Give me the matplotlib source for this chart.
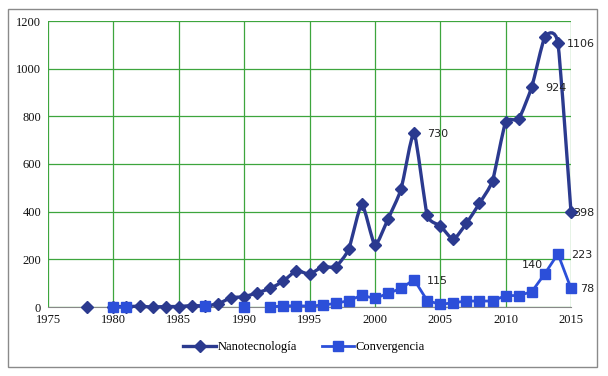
import numpy as np
import matplotlib
matplotlib.use("Agg")
import matplotlib.pyplot as plt
from matplotlib.path import Path
from matplotlib.patches import PathPatch, Rectangle

# data (nan = no value that year)
years = list(range(1978, 2016))
nano = [0, np.nan, 2, 2, 3, 0, 2, 2, 6, 5, 13, 39, 43, 60, 78, 109, 152, 138,
        169, 169, 242, 432, 260, 369, 494, 730, 386, 341, 284, 351, 435, 530,
        776, 789, 924, 1133, 1106, 398]
conv = [np.nan, np.nan, 0, 0, np.nan, np.nan, np.nan, np.nan, np.nan, 5, np.nan,
        np.nan, 0, np.nan, 0, 5, 5, 4, 8, 15, 27, 49, 36, 57, 78, 115, 27, 11,
        18, 25, 25, 25, 48, 48, 64, 140, 223, 78]

nano_labels = {2003: "730", 2012: "924", 2014: "1106", 2015: "398"}
conv_labels = {2003: "115", 2013: "140", 2014: "223", 2015: "78"}

NANO_COLOR = "#2B3A8F"
CONV_COLOR = "#2C4FD9"
GRID_COLOR = "#3DA53D"
TENSION = 0.09


def smooth_path(xs, ys):
    # smoothed line like the spreadsheet: cubic bezier through every point
    verts, codes = [], []
    n = len(xs)
    for i in range(n):
        if i == 0:
            verts.append((xs[0], ys[0]))
            codes.append(Path.MOVETO)
            continue
        p0 = (xs[max(i - 2, 0)], ys[max(i - 2, 0)])
        p1 = (xs[i - 1], ys[i - 1])
        p2 = (xs[i], ys[i])
        p3 = (xs[min(i + 1, n - 1)], ys[min(i + 1, n - 1)])
        c1 = (p1[0] + (p2[0] - p0[0]) * TENSION, p1[1] + (p2[1] - p0[1]) * TENSION)
        c2 = (p2[0] - (p3[0] - p1[0]) * TENSION, p2[1] - (p3[1] - p1[1]) * TENSION)
        verts += [c1, c2, p2]
        codes += [Path.CURVE4] * 3
    return Path(verts, codes)


fig = plt.figure(figsize=(6.08, 3.76), dpi=100)
ax = fig.add_axes([48 / 608, 1 - 307 / 376, 523 / 608, 286 / 376])

x = np.array(years, dtype=float)
yn = np.array(nano, dtype=float)
yc = np.array(conv, dtype=float)

# smoothed nano line, split at gaps
ok = ~np.isnan(yn)
start = None
for i in range(len(x) + 1):
    if i < len(x) and ok[i]:
        if start is None:
            start = i
    elif start is not None:
        if i - start > 1:
            ax.add_patch(PathPatch(smooth_path(x[start:i], yn[start:i]),
                                   fill=False, edgecolor=NANO_COLOR, lw=2.4,
                                   zorder=3, capstyle="round", clip_on=False))
        start = None

ax.plot(x, yn, linestyle="none", marker="D", markersize=6,
        color=NANO_COLOR, label="Nanotecnología", zorder=4, clip_on=False)
ax.plot(x, yc, marker="s", markersize=7, lw=2.0, color=CONV_COLOR,
        label="Convergencia", zorder=5, clip_on=False)

lab_kw = dict(textcoords="offset pixels", fontsize=8, color="#222222",
              family="DejaVu Sans", zorder=6, annotation_clip=False, va="center")

for yr, txt in nano_labels.items():
    v = yn[years.index(yr)]
    dx = 2 if yr == 2015 else (9 if yr == 2014 else 13)
    ax.annotate(txt, (yr, v), xytext=(dx, -1), ha="left", **lab_kw)

for yr, txt in conv_labels.items():
    v = yc[years.index(yr)]
    if yr == 2013:
        ax.annotate(txt, (yr, v), xytext=(-2, 9), ha="right", **lab_kw)
    else:
        dx = 9 if yr == 2015 else 13
        ax.annotate(txt, (yr, v), xytext=(dx, -1), ha="left", **lab_kw)

ax.set_xlim(1975, 2015)
ax.set_ylim(0, 1200)
ax.set_xticks(range(1975, 2016, 5))
ax.set_yticks(range(0, 1201, 200))
ax.grid(True, color=GRID_COLOR, lw=0.9)
ax.set_axisbelow(True)
for s in ["left", "right", "top"]:
    ax.spines[s].set_visible(False)
ax.spines["bottom"].set_color("#888888")
ax.spines["bottom"].set_zorder(2)
ax.tick_params(length=0, labelsize=9, pad=5, labelcolor="#111111")
for lab in ax.get_xticklabels() + ax.get_yticklabels():
    lab.set_family("Liberation Serif")

# chart-area border
fig.patches.append(Rectangle((8 / 608, 9 / 376), 589 / 608, 358 / 376,
                             transform=fig.transFigure, fill=False,
                             edgecolor="#8a8a8a", lw=1))

h, l = ax.get_legend_handles_labels()
h[0] = plt.Line2D([], [], color=NANO_COLOR, lw=2.4, marker="D", markersize=6)
fig.legend(h, l, loc="center", bbox_to_anchor=(304 / 608, 1 - 347 / 376),
           ncol=2, frameon=False, handlelength=2.6, handletextpad=0.1,
           columnspacing=2.0, prop={"family": "Liberation Serif", "size": 9})

fig.savefig("out.png", dpi=100)
